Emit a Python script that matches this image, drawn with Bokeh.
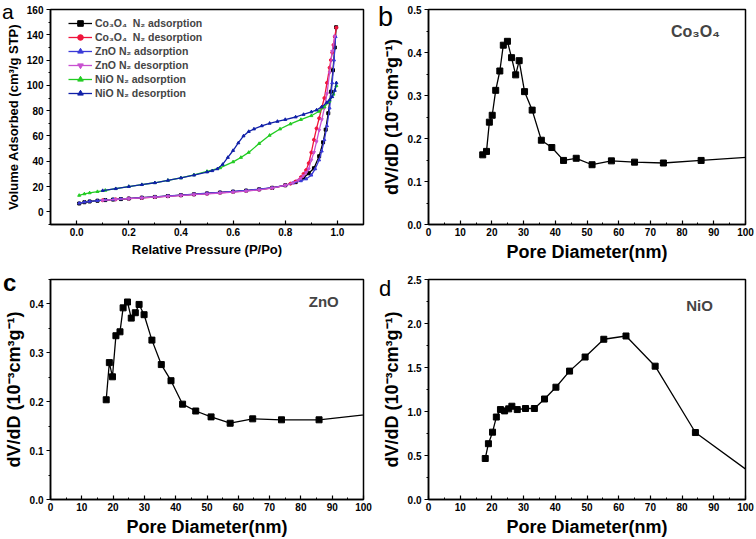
from bokeh.plotting import figure
from bokeh.models import (FixedTicker, PrintfTickFormatter, Label, Range1d, Legend, LegendItem,
                          GridBox, Div)
from bokeh.embed import file_html
from bokeh.resources import INLINE

FONT = "Liberation Sans"

# ---------------- Panel a: N2 isotherms ----------------
co_ads_p = [0.01, 0.03, 0.05, 0.08, 0.11, 0.14, 0.17, 0.2, 0.25, 0.3, 0.35, 0.4, 0.45, 0.5, 0.55, 0.6,
            0.65, 0.7, 0.75, 0.8, 0.84, 0.87, 0.89, 0.91, 0.93, 0.945, 0.955, 0.965, 0.975, 0.983, 0.99, 0.995]
co_ads_v = [6.6, 7.6, 8.2, 8.8, 9.3, 9.7, 10.1, 10.5, 11.2, 11.8, 12.5, 13.2, 13.9, 14.6, 15.3, 16.0,
            16.8, 17.8, 19.0, 21.0, 23.5, 27.0, 30.5, 34.5, 44.0, 55.0, 65.0, 78.0, 95.0, 112.0, 130.0, 146.0]

co_des_p = [0.996, 0.99, 0.985, 0.98, 0.975, 0.97, 0.96, 0.95, 0.94, 0.93, 0.92, 0.91, 0.9, 0.89, 0.88, 0.87,
            0.86, 0.84, 0.82, 0.8, 0.75, 0.7, 0.65, 0.6, 0.55, 0.5, 0.45, 0.4, 0.35, 0.3, 0.25, 0.2, 0.15, 0.1]
co_des_v = [145.7, 138.5, 132.0, 126.0, 120.0, 114.0, 102.0, 90.0, 82.5, 74.0, 66.0, 57.0, 47.0, 38.5, 33.0, 30.0,
            27.4, 24.0, 22.3, 21.0, 19.0, 17.6, 16.6, 15.8, 15.1, 14.4, 13.8, 13.1, 12.4, 11.7, 11.1, 10.5, 9.9, 9.2]

zn_ads_p = [0.01, 0.03, 0.05, 0.08, 0.11, 0.14, 0.17, 0.2, 0.25, 0.3, 0.35, 0.4, 0.45, 0.5, 0.55, 0.6,
            0.65, 0.7, 0.75, 0.8, 0.83, 0.86, 0.88, 0.9, 0.915, 0.93, 0.94, 0.95, 0.96, 0.97, 0.98, 0.987, 0.993]
zn_ads_v = [6.8, 7.7, 8.3, 8.9, 9.4, 9.8, 10.2, 10.6, 11.3, 11.9, 12.6, 13.3, 14.0, 14.7, 15.4, 16.1,
            16.9, 17.9, 19.1, 21.0, 22.8, 24.5, 26.0, 29.0, 34.0, 41.0, 48.0, 57.0, 68.0, 82.0, 102.0, 120.0, 138.5]

zn_des_p = [0.99, 0.98, 0.97, 0.96, 0.95, 0.94, 0.93, 0.92, 0.91, 0.9, 0.89, 0.88, 0.87, 0.86, 0.85, 0.83,
            0.8, 0.75, 0.7, 0.65, 0.6, 0.55, 0.5, 0.45, 0.4, 0.35, 0.3, 0.25, 0.2, 0.15, 0.1]
zn_des_v = [139.0, 127.0, 110.0, 93.5, 82.0, 73.0, 64.5, 55.5, 47.0, 41.0, 34.0, 31.0, 28.5, 26.6, 25.0, 23.0,
            21.0, 18.8, 17.4, 16.4, 15.6, 14.9, 14.2, 13.6, 12.9, 12.2, 11.6, 11.0, 10.4, 9.8, 9.1]

ni_ads_p = [0.01, 0.03, 0.05, 0.08, 0.11, 0.15, 0.2, 0.25, 0.3, 0.35, 0.4, 0.45, 0.5, 0.55, 0.6, 0.63,
            0.66, 0.7, 0.74, 0.78, 0.82, 0.86, 0.9, 0.93, 0.95, 0.97, 0.985, 0.996]
ni_ads_v = [13.0, 14.2, 15.0, 16.0, 17.0, 18.3, 20.0, 21.5, 23.0, 24.9, 26.8, 29.2, 32.0, 34.8, 39.5, 43.0,
            47.0, 54.0, 60.5, 65.5, 69.5, 73.0, 76.0, 79.5, 83.0, 87.5, 93.0, 99.7]

ni_des_p = [0.996, 0.99, 0.98, 0.97, 0.96, 0.94, 0.92, 0.9, 0.87, 0.84, 0.8, 0.77, 0.74, 0.71, 0.68, 0.66,
            0.64, 0.62, 0.6, 0.58, 0.56, 0.54, 0.52, 0.5, 0.45, 0.4, 0.35, 0.3, 0.25, 0.2, 0.15, 0.1]
ni_des_v = [102.0, 96.0, 91.0, 88.5, 86.5, 83.0, 80.5, 79.0, 77.0, 75.0, 73.0, 71.5, 70.0, 68.0, 65.5, 63.5,
            60.0, 54.5, 48.5, 43.0, 37.5, 34.0, 32.5, 31.5, 29.0, 26.8, 24.9, 23.0, 21.5, 20.0, 18.3, 16.8]

iso_labels = ["Co\u2083O\u2084  N\u2082 adsorption", "Co\u2083O\u2084  N\u2082 desorption",
              "ZnO N\u2082 adsorption", "ZnO N\u2082 desorption",
              "NiO N\u2082 adsorption", "NiO N\u2082 desorption"]
iso_colors = ["#000000", "#f0143c", "#3a3ad8", "#c850d0", "#22cc22", "#1020a8"]
iso_markers = ["square", "circle", "triangle", "inverted_triangle", "triangle", "triangle"]

# ---------------- Panels b-d: pore size distributions ----------------
co_d = [17.1, 18.3, 19.2, 20.1, 21.2, 22.5, 23.6, 24.9, 26.2, 27.5, 28.6, 30.3, 32.7, 35.6, 38.9, 42.6,
        46.6, 51.6, 57.7, 65.0, 74.1, 86.0, 104.5]
co_dv = [0.162, 0.170, 0.238, 0.254, 0.312, 0.357, 0.417, 0.426, 0.388, 0.348, 0.381, 0.309, 0.266, 0.196,
         0.179, 0.149, 0.154, 0.139, 0.148, 0.145, 0.143, 0.149, 0.158]

zn_d = [17.8, 18.8, 19.8, 20.9, 22.2, 23.2, 24.6, 25.8, 27.1, 28.3, 29.9, 32.4, 35.4, 38.5, 42.2, 46.4,
        51.3, 57.4, 64.6, 73.8, 85.8, 104.5]
zn_dv = [0.204, 0.280, 0.251, 0.335, 0.343, 0.392, 0.404, 0.371, 0.382, 0.399, 0.378, 0.326, 0.276, 0.243,
         0.195, 0.181, 0.169, 0.156, 0.165, 0.163, 0.163, 0.176]

ni_d = [17.9, 18.9, 20.2, 21.4, 22.7, 24.0, 25.3, 26.3, 28.0, 30.6, 33.4, 36.6, 40.2, 44.5, 49.4, 55.3,
        62.3, 71.5, 84.2, 104.5]
ni_dv = [0.466, 0.634, 0.765, 0.937, 1.022, 1.007, 1.030, 1.060, 1.022, 1.034, 1.034, 1.142, 1.276, 1.459,
         1.619, 1.821, 1.858, 1.515, 0.761, 0.229]

pore_ticks = [0, 10, 20, 30, 40, 50, 60, 70, 80, 90, 100]
pore_minor = [5 * i for i in range(21)]
DVDD = "dV/dD (10\u207b\u00b3cm\u00b3g\u207b\u00b9)"
panel_letters = ["a", "b", "c", "d"]


def style(p, xticks, xminor, yticks, yminor, xfmt, yfmt, xlabel, ylabel, tsize, lsize):
    p.outline_line_color = "black"
    p.outline_line_width = 1.5
    p.xgrid.visible = False
    p.ygrid.visible = False
    p.xaxis.ticker = FixedTicker(ticks=xticks, minor_ticks=xminor)
    p.yaxis.ticker = FixedTicker(ticks=yticks, minor_ticks=yminor)
    p.xaxis.formatter = PrintfTickFormatter(format=xfmt)
    p.yaxis.formatter = PrintfTickFormatter(format=yfmt)
    for ax in (p.xaxis, p.yaxis):
        ax.axis_line_color = "black"
        ax.axis_line_width = 1.5
        ax.major_tick_line_color = "black"
        ax.minor_tick_line_color = "black"
        ax.major_tick_line_width = 1.2
        ax.minor_tick_line_width = 1.0
        ax.major_label_text_font = FONT
        ax.major_label_text_font_style = "bold"
        ax.major_label_text_font_size = lsize
        ax.major_label_text_color = "black"
        ax.axis_label_text_font = FONT
        ax.axis_label_text_font_style = "bold"
        ax.axis_label_text_font_size = tsize
        ax.axis_label_text_color = "black"
        ax.major_label_standoff = 3
        ax.axis_label_standoff = 3
    p.xaxis.major_tick_in = 4
    p.xaxis.major_tick_out = 0
    p.xaxis.minor_tick_in = 2
    p.xaxis.minor_tick_out = 0
    p.yaxis.major_tick_in = 0
    p.yaxis.major_tick_out = 4
    p.yaxis.minor_tick_in = 0
    p.yaxis.minor_tick_out = 2
    p.xaxis.axis_label = xlabel
    p.yaxis.axis_label = ylabel


def letter_div(txt, size, top, left, bold=False):
    w = "bold" if bold else "normal"
    return Div(text=f'<span style="font-family:\'{FONT}\';font-size:{size};font-weight:{w};'
                    f'color:black;line-height:1">{txt}</span>',
               width=30, height=32, margin=(top, 0, 0, left), align="start")


common = dict(output_backend="svg", toolbar_location=None, background_fill_color="white",
              border_fill_color="white")

# Panel a
pa = figure(width=378, height=270, x_range=Range1d(-0.1, 1.1), y_range=Range1d(-10, 160),
            min_border_left=49, min_border_right=15, min_border_top=5, min_border_bottom=46, **common)
style(pa, [0, 0.2, 0.4, 0.6, 0.8, 1.0], [round(-0.1 + 0.1 * i, 2) for i in range(13)],
      list(range(0, 161, 20)), list(range(-10, 161, 10)), "%.1f", "%d",
      "Relative Pressure (P/Po)", "Volume Adsorbed (cm\u00b3/g STP)", "13px", "10px")
series = [(co_ads_p, co_ads_v), (co_des_p, co_des_v), (zn_ads_p, zn_ads_v), (zn_des_p, zn_des_v),
          (ni_ads_p, ni_ads_v), (ni_des_p, ni_des_v)]
items = []
for (px, vy), lab, col, mk in zip(series, iso_labels, iso_colors, iso_markers):
    r1 = pa.line(px, vy, line_color=col, line_width=1.3)
    r2 = pa.scatter(px, vy, marker=mk, size=3, fill_color=col, line_color=col)
    items.append(LegendItem(label=lab, renderers=[r1, r2]))
leg = Legend(items=items, location=(16, 122), padding=2, margin=0, spacing=0,
             label_height=14, glyph_height=14, glyph_width=24, label_standoff=3,
             label_text_font=FONT, label_text_font_style="bold", label_text_font_size="10.5px",
             background_fill_alpha=0, border_line_alpha=0)
pa.add_layout(leg)

# Panel b
pb = figure(width=378, height=270, x_range=Range1d(0, 100), y_range=Range1d(0, 0.5),
            min_border_left=47, min_border_right=10, min_border_top=9, min_border_bottom=37, **common)
style(pb, pore_ticks, pore_minor, [0, 0.1, 0.2, 0.3, 0.4, 0.5], [0.05 * i for i in range(11)],
      "%d", "%.1f", "Pore Diameter(nm)", DVDD, "18px", "10px")
pb.line(co_d, co_dv, line_color="black", line_width=1.3)
pb.scatter(co_d, co_dv, marker="square", size=6, fill_color="black", line_color="black")
pb.add_layout(Label(x=76.5, y=0.45, text="Co\u2083O\u2084", text_font=FONT, text_font_size="16px",
                    text_font_style="bold", text_baseline="middle"))

# Panel c
pc = figure(width=378, height=269, x_range=Range1d(0, 100), y_range=Range1d(0, 0.45),
            min_border_left=44, min_border_right=12, min_border_top=5, min_border_bottom=39, **common)
style(pc, pore_ticks, pore_minor, [0, 0.1, 0.2, 0.3, 0.4], [0.05 * i for i in range(10)],
      "%d", "%.1f", "Pore Diameter(nm)", DVDD, "18px", "10px")
pc.line(zn_d, zn_dv, line_color="black", line_width=1.3)
pc.scatter(zn_d, zn_dv, marker="square", size=6, fill_color="black", line_color="black")
pc.add_layout(Label(x=82.5, y=0.406, text="ZnO", text_font=FONT, text_font_size="15px",
                    text_font_style="bold", text_baseline="middle"))

# Panel d
pd_ = figure(width=378, height=269, x_range=Range1d(0, 100), y_range=Range1d(0, 2.5),
             min_border_left=46, min_border_right=11, min_border_top=9, min_border_bottom=36, **common)
style(pd_, pore_ticks, pore_minor, [0, 0.5, 1.0, 1.5, 2.0, 2.5], [0.25 * i for i in range(11)],
      "%d", "%.1f", "Pore Diameter(nm)", DVDD, "18px", "10px")
pd_.line(ni_d, ni_dv, line_color="black", line_width=1.3)
pd_.scatter(ni_d, ni_dv, marker="square", size=6, fill_color="black", line_color="black")
pd_.add_layout(Label(x=81.3, y=2.21, text="NiO", text_font=FONT, text_font_size="15px",
                     text_font_style="bold", text_baseline="middle"))

div_a = letter_div(panel_letters[0], "21px", 1, 2)
div_b = letter_div(panel_letters[1], "27px", 4, 0)
div_c = letter_div(panel_letters[2], "24px", 1, 3, bold=True)
div_d = letter_div(panel_letters[3], "22px", 8, 1)

grid = GridBox(children=[(pa, 0, 0), (pb, 0, 1), (pc, 1, 0), (pd_, 1, 1),
                         (div_a, 0, 0), (div_b, 0, 1), (div_c, 1, 0), (div_d, 1, 1)], spacing=0)

open("out.html", "w").write(file_html(grid, INLINE))
